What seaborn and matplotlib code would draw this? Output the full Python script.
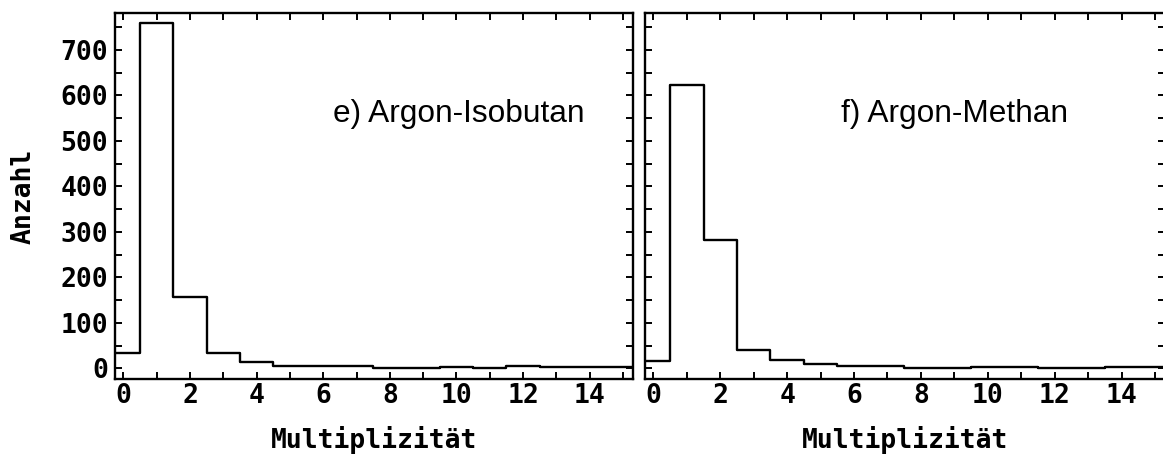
import numpy as np
import pandas as pd
import matplotlib
matplotlib.use("Agg")
import matplotlib.pyplot as plt
from matplotlib.ticker import MultipleLocator
import seaborn as sns

# ---- data ----
multiplicity = list(range(16))
counts_isobutan = [33, 760, 157, 33, 14, 4, 4, 6, 1, 1, 2, 1, 5, 2, 2, 2]
counts_methan = [17, 623, 283, 40, 18, 10, 5, 5, 1, 1, 2, 2, 1, 1, 2, 2]
panel_labels = ["e) Argon-Isobutan", "f) Argon-Methan"]
x_label = "Multiplizität"
y_label = "Anzahl"
y_ticks = [0, 100, 200, 300, 400, 500, 600, 700]
x_ticks = [0, 2, 4, 6, 8, 10, 12, 14]

sns.set_style("ticks")
plt.rcParams["font.family"] = ["DejaVu Sans Mono", "DejaVu Sans"]
plt.rcParams["text.color"] = "black"
plt.rcParams["axes.labelcolor"] = "black"
plt.rcParams["xtick.color"] = "black"
plt.rcParams["ytick.color"] = "black"

W, H = 1163, 457
fig = plt.figure(figsize=(W / 100, H / 100), dpi=100)

def px_axes(x0, x1, y0, y1):
    return fig.add_axes([x0 / W, 1 - y1 / H, (x1 - x0) / W, (y1 - y0) / H])

ax1 = px_axes(115, 633, 13, 379)
ax2 = px_axes(645, 1165, 13, 379)

df = pd.DataFrame({
    "mult": multiplicity * 2,
    "count": counts_isobutan + counts_methan,
    "gas": ["iso"] * 16 + ["meth"] * 16,
})

tick_font = dict(family="DejaVu Sans Mono", weight="bold", size=19, color="black")

for ax, gas, label, xmax, txt_x in [
    (ax1, "iso", panel_labels[0], 15.3, 6.28),
    (ax2, "meth", panel_labels[1], 15.3, 5.6),
]:
    sub = df[df["gas"] == gas]
    sns.histplot(data=sub, x="mult", weights="count", discrete=True,
                 element="step", fill=False, color="black",
                 linewidth=1.7, ax=ax)
    ax.set_xlim(-0.25, xmax)
    ax.set_ylim(-23.5, 781)
    ax.set_xticks(x_ticks)
    ax.xaxis.set_minor_locator(MultipleLocator(1))
    ax.set_yticks(y_ticks)
    ax.yaxis.set_minor_locator(MultipleLocator(50))
    ax.tick_params(which="both", direction="in", top=True, right=True,
                   length=5, width=1.4, color="black")
    for s in ax.spines.values():
        s.set_visible(True)
        s.set_linewidth(1.7)
        s.set_color("black")
    ax.set_xticklabels([str(t) for t in x_ticks], fontdict=tick_font)
    ax.tick_params(axis="x", pad=3)
    ax.set_xlabel(x_label, fontdict=tick_font, labelpad=12)
    ax.text(txt_x, 542, label, family="Liberation Sans", fontsize=22.8,
            ha="left", va="baseline", color="black")
    ax.grid(False)

ax1.set_yticklabels([str(t) for t in y_ticks], fontdict=tick_font)
ax1.tick_params(axis="y", pad=5)
ax1.set_ylabel(y_label, fontdict=tick_font, labelpad=17)
ax2.set_yticklabels([])
ax2.set_ylabel("")

fig.savefig("out.png", dpi=100, facecolor="white")
